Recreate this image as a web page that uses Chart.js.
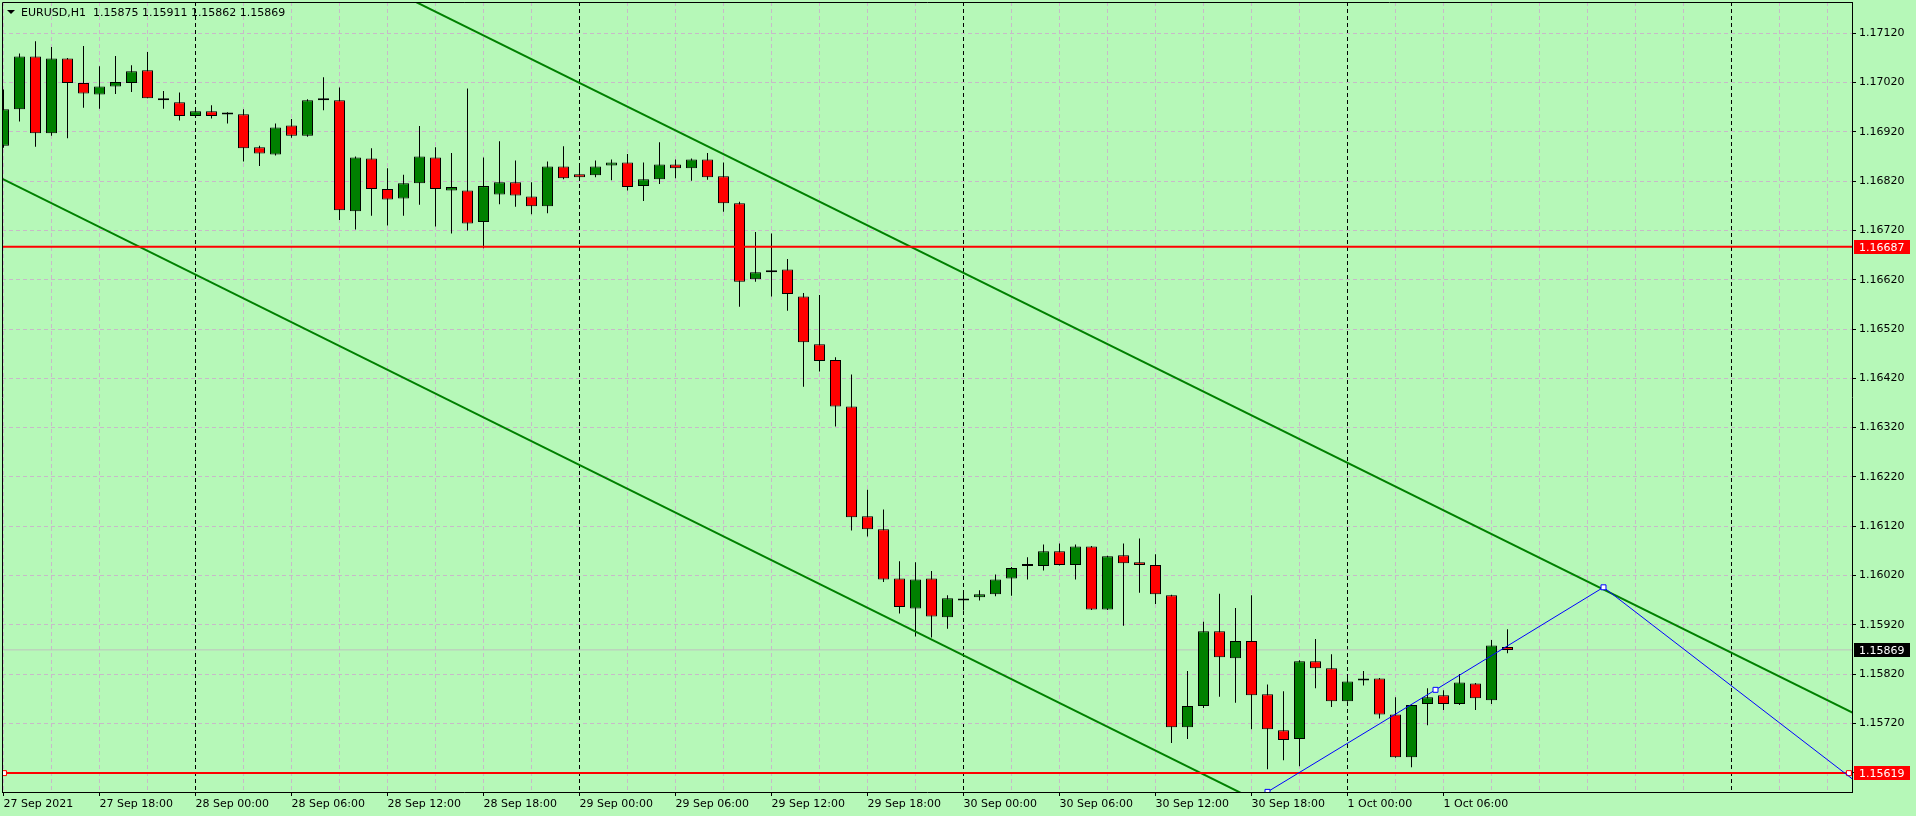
<!DOCTYPE html>
<html>
<head>
<meta charset="utf-8">
<title>EURUSD,H1</title>
<script src="https://cdn.jsdelivr.net/npm/chart.js@4.4.1/dist/chart.umd.min.js"></script>
<style>
  html, body { margin: 0; padding: 0; background: #b6f8b8; }
  #wrap { width: 1916px; height: 816px; }
</style>
</head>
<body>
<div id="wrap"><canvas id="chart" width="1916" height="816"></canvas></div>
<script>
// EURUSD H1, bars from 27 Sep 2021 12:00 to 1 Oct 2021 10:00 (index 0..94)
var symbol = 'EURUSD,H1';

var opens = [1.16892,1.16966,1.17073,1.16917,1.17069,1.17019,1.16996,1.17012,1.17019,1.17045,
  1.16988,1.16980,1.16952,1.16962,1.16955,1.16956,1.16889,1.16874,1.16933,1.16912,
  1.16984,1.16984,1.16759,1.16866,1.16804,1.16785,1.16816,1.16868,1.16801,1.16801,
  1.16737,1.16793,1.16818,1.16789,1.16769,1.16850,1.16834,1.16832,1.16852,1.16858,
  1.16810,1.16824,1.16854,1.16846,1.16864,1.16830,1.16775,1.16621,1.16635,1.16641,
  1.16586,1.16489,1.16457,1.16363,1.16140,1.16114,1.16014,1.15953,1.16014,1.15935,
  1.15969,1.15976,1.15982,1.16014,1.16039,1.16039,1.16069,1.16041,1.16079,1.15951,
  1.16061,1.16047,1.16041,1.15980,1.15712,1.15755,1.15907,1.15852,1.15887,1.15779,
  1.15706,1.15688,1.15846,1.15832,1.15765,1.15807,1.15811,1.15738,1.15651,1.15759,
  1.15777,1.15759,1.15801,1.15767,1.15875];
var highs = [1.17006,1.17079,1.17104,1.17092,1.17070,1.17094,1.17053,1.17074,1.17055,1.17082,
  1.17003,1.17000,1.16964,1.16974,1.16960,1.16966,1.16892,1.16937,1.16946,1.16986,
  1.17031,1.17010,1.16870,1.16887,1.16846,1.16833,1.16932,1.16889,1.16877,1.17008,
  1.16868,1.16901,1.16862,1.16818,1.16860,1.16891,1.16854,1.16862,1.16864,1.16875,
  1.16858,1.16899,1.16864,1.16866,1.16877,1.16858,1.16778,1.16717,1.16714,1.16662,
  1.16593,1.16589,1.16463,1.16428,1.16194,1.16154,1.16049,1.16047,1.16029,1.15980,
  1.15990,1.15990,1.16022,1.16037,1.16057,1.16083,1.16085,1.16083,1.16080,1.16060,
  1.16085,1.16095,1.16063,1.15981,1.15826,1.15926,1.15983,1.15954,1.15980,1.15799,
  1.15785,1.15848,1.15891,1.15860,1.15820,1.15826,1.15812,1.15773,1.15758,1.15791,
  1.15787,1.15820,1.15802,1.15889,1.15911];
var lows = [1.16888,1.16941,1.16890,1.16912,1.16907,1.16969,1.16967,1.16997,1.17001,1.16988,
  1.16967,1.16943,1.16950,1.16947,1.16937,1.16860,1.16851,1.16872,1.16908,1.16910,
  1.16964,1.16741,1.16722,1.16750,1.16730,1.16750,1.16772,1.16728,1.16714,1.16720,
  1.16684,1.16773,1.16768,1.16753,1.16755,1.16824,1.16826,1.16828,1.16822,1.16801,
  1.16780,1.16814,1.16826,1.16821,1.16823,1.16758,1.16565,1.16616,1.16586,1.16557,
  1.16403,1.16434,1.16322,1.16111,1.16099,1.16007,1.15943,1.15896,1.15894,1.15912,
  1.15949,1.15969,1.15978,1.15979,1.16012,1.16030,1.16040,1.16012,1.15950,1.15950,
  1.15918,1.15985,1.15962,1.15680,1.15688,1.15751,1.15774,1.15762,1.15708,1.15627,
  1.15645,1.15633,1.15791,1.15753,1.15764,1.15797,1.15730,1.15650,1.15631,1.15716,
  1.15747,1.15757,1.15747,1.15759,1.15862];
var closes = [1.16966,1.17073,1.16917,1.17069,1.17019,1.16998,1.17012,1.17021,1.17043,1.16988,
  1.16984,1.16952,1.16962,1.16952,1.16955,1.16887,1.16876,1.16929,1.16912,1.16984,
  1.16984,1.16761,1.16868,1.16804,1.16783,1.16816,1.16870,1.16804,1.16808,1.16734,
  1.16810,1.16818,1.16791,1.16769,1.16850,1.16826,1.16828,1.16850,1.16858,1.16808,
  1.16824,1.16854,1.16846,1.16864,1.16828,1.16775,1.16616,1.16635,1.16639,1.16591,
  1.16493,1.16455,1.16363,1.16138,1.16114,1.16012,1.15956,1.16012,1.15937,1.15974,
  1.15969,1.15982,1.16012,1.16035,1.16039,1.16069,1.16041,1.16079,1.15951,1.16059,
  1.16045,1.16041,1.15982,1.15712,1.15755,1.15907,1.15854,1.15887,1.15777,1.15708,
  1.15686,1.15846,1.15832,1.15765,1.15805,1.15807,1.15738,1.15651,1.15757,1.15773,
  1.15759,1.15803,1.15771,1.15878,1.15869];

// time scale labels (bar index -> text)
var labelIdx = [0, 6, 12, 18, 24, 30, 36, 42, 48, 54, 60, 66, 72, 78, 84, 90];
var timeLabels = ['27 Sep 2021', '27 Sep 18:00', '28 Sep 00:00', '28 Sep 06:00', '28 Sep 12:00',
  '28 Sep 18:00', '29 Sep 00:00', '29 Sep 06:00', '29 Sep 12:00', '29 Sep 18:00',
  '30 Sep 00:00', '30 Sep 06:00', '30 Sep 12:00', '30 Sep 18:00', '1 Oct 00:00', '1 Oct 06:00'];
var daySeparators = [12, 36, 60, 84, 108];

var priceTicks = [1.15620, 1.15720, 1.15820, 1.15920, 1.16020, 1.16120, 1.16220, 1.16320,
  1.16420, 1.16520, 1.16620, 1.16720, 1.16820, 1.16920, 1.17020, 1.17120];

// objects on the chart
var hLevels = [1.16687, 1.15619];
var bidPrice = 1.15869;
var channelUpper = [[24, 1.17212], [115.6, 1.15741]];
var channelLower = [[-0.1, 1.16825], [80, 1.15536]];
var blueLine = [[79, 1.15581], [89.5, 1.15788], [100, 1.15996], [116, 1.15596]];
var redMarkIdx = [0.03, 115.34];

var BG = '#b6f8b8';
var GRID = '#c8b9c8';
var FONT = '"DejaVu Sans", Tahoma, sans-serif';

// 3 hour vertical grid
var gridIdx = [];
for (var g = 0; g <= 114; g += 3) gridIdx.push(g);

var wickData = [], bodyData = [], bodyColors = [];
for (var i = 0; i < opens.length; i++) {
    wickData.push({x: i, y: [lows[i], highs[i]]});
    bodyData.push({x: i, y: [opens[i], closes[i]]});
    if (closes[i] > opens[i]) bodyColors.push('#008000');
    else if (closes[i] < opens[i]) bodyColors.push('#ff0000');
    else bodyColors.push('#000000');
}

function pts(arr) {
    return arr.map(function(p) { return {x: p[0], y: p[1]}; });
}

var hLineSets = hLevels.map(function(v, k) {
    var d = [{x: -1, y: v}];
    if (k === 1) {
        redMarkIdx.forEach(function(m) { d.push({x: m, y: v}); });
    }
    d.push({x: 117, y: v});
    return {
        type: 'line', data: d, borderColor: '#ff0000', borderWidth: 2,
        pointRadius: d.map(function(p, j) { return (j === 0 || j === d.length - 1) ? 0 : 3.5; }),
        pointStyle: 'rect', pointBackgroundColor: '#ffffff', pointBorderColor: '#ff0000', pointBorderWidth: 1,
        order: 0
    };
});

// no extra space round the plot for the edge labels
function noPad(s) {
    s.paddingTop = 0;
    s.paddingBottom = 0;
    s.paddingLeft = 0;
    s.paddingRight = 0;
}

var headerPlugin = {
    id: 'mtExtras',
    afterDraw: function(chart) {
        var ctx = chart.ctx, a = chart.chartArea, ys = chart.scales.y;
        ctx.save();
        // frame top / left
        ctx.strokeStyle = '#000';
        ctx.lineWidth = 1;
        ctx.beginPath();
        ctx.moveTo(a.left + 0.5, a.bottom);
        ctx.lineTo(a.left + 0.5, a.top + 0.5);
        ctx.lineTo(a.right, a.top + 0.5);
        ctx.stroke();

        // price labels on the axis
        ctx.font = '11px ' + FONT;
        ctx.textBaseline = 'middle';
        ctx.textAlign = 'left';
        var marks = hLevels.map(function(v) { return {v: v, bg: '#ff0000'}; });
        marks.push({v: bidPrice, bg: '#000000'});
        marks.forEach(function(m) {
            var py = Math.round(ys.getPixelForValue(m.v));
            ctx.fillStyle = m.bg;
            ctx.fillRect(a.right + 2, py - 7, 56, 14);
            ctx.fillStyle = '#ffffff';
            ctx.fillText(m.v.toFixed(5), a.right + 7, py + 1);
        });

        // header
        var last = opens.length - 1;
        ctx.fillStyle = '#000';
        ctx.beginPath();
        ctx.moveTo(7, 10);
        ctx.lineTo(15, 10);
        ctx.lineTo(11, 14);
        ctx.closePath();
        ctx.fill();
        var txt = symbol + '  ' + opens[last].toFixed(5) + ' ' + highs[last].toFixed(5) + ' ' +
            lows[last].toFixed(5) + ' ' + closes[last].toFixed(5);
        ctx.fillText(txt, 21, 13);
        ctx.restore();
    }
};

new Chart(document.getElementById('chart').getContext('2d'), {
    type: 'line',
    data: {
        datasets: [
            {
                type: 'line', data: [{x: -1, y: bidPrice}, {x: 117, y: bidPrice}],
                borderColor: '#c0c0c0', borderWidth: 1, pointRadius: 0, order: 5
            },
            {
                type: 'bar', data: wickData, backgroundColor: '#000000', borderWidth: 0,
                barThickness: 1, grouped: false, inflateAmount: 0, order: 4
            },
            {
                type: 'bar', data: bodyData, backgroundColor: bodyColors, borderColor: '#000000',
                borderWidth: 1, borderSkipped: false, barThickness: 11, minBarLength: 2,
                grouped: false, inflateAmount: 0, order: 3
            },
            {
                type: 'line', data: pts(channelUpper), borderColor: '#008000', borderWidth: 2,
                pointRadius: 0, order: 1
            },
            {
                type: 'line', data: pts(channelLower), borderColor: '#008000', borderWidth: 2,
                pointRadius: 0, order: 1
            },
            {
                type: 'line', data: pts(blueLine), borderColor: '#0000ff', borderWidth: 1,
                pointRadius: [3.5, 3.5, 3.5, 0], pointStyle: 'rect',
                pointBackgroundColor: '#ffffff', pointBorderColor: '#0000ff', pointBorderWidth: 1,
                order: 0
            }
        ].concat(hLineSets)
    },
    options: {
        responsive: false,
        animation: false,
        events: [],
        layout: { autoPadding: false, padding: { left: 2, top: 2, right: 0, bottom: 0 } },
        plugins: { legend: { display: false }, tooltip: { enabled: false } },
        scales: {
            x: {
                type: 'linear',
                position: 'bottom',
                min: -0.09375,
                max: 115.53125,
                offset: false,
                afterBuildTicks: function(s) {
                    s.ticks = gridIdx.map(function(v) { return {value: v}; });
                },
                afterFit: function(s) { s.height = 24; noPad(s); },
                ticks: {
                    autoSkip: false, maxRotation: 0, minRotation: 0, align: 'start', padding: 2,
                    color: '#000', font: { family: FONT, size: 11 },
                    callback: function(v) {
                        var k = labelIdx.indexOf(v);
                        return k >= 0 ? timeLabels[k] : '';
                    }
                },
                grid: {
                    offset: false,
                    lineWidth: 1,
                    tickLength: 4,
                    color: function(c) {
                        return (c.tick && daySeparators.indexOf(c.tick.value) >= 0) ? '#000000' : GRID;
                    },
                    tickColor: function(c) {
                        return (c.tick && labelIdx.indexOf(c.tick.value) >= 0) ? '#000000' : 'rgba(0,0,0,0)';
                    }
                },
                border: { display: true, color: '#000', width: 1, dash: [4, 3] }
            },
            y: {
                type: 'linear',
                position: 'right',
                min: 1.155807,
                max: 1.171835,
                beginAtZero: false,
                afterBuildTicks: function(s) {
                    s.ticks = priceTicks.map(function(v) { return {value: v}; });
                },
                afterFit: function(s) { s.width = 64; noPad(s); },
                ticks: {
                    padding: 3, crossAlign: 'near', color: '#000',
                    font: { family: FONT, size: 11 },
                    callback: function(v) { return v.toFixed(5); }
                },
                grid: { color: GRID, lineWidth: 1, tickLength: 4, tickColor: '#000' },
                border: { display: true, color: '#000', width: 1, dash: [4, 3] }
            }
        }
    },
    plugins: [headerPlugin]
});
</script>
</body>
</html>
